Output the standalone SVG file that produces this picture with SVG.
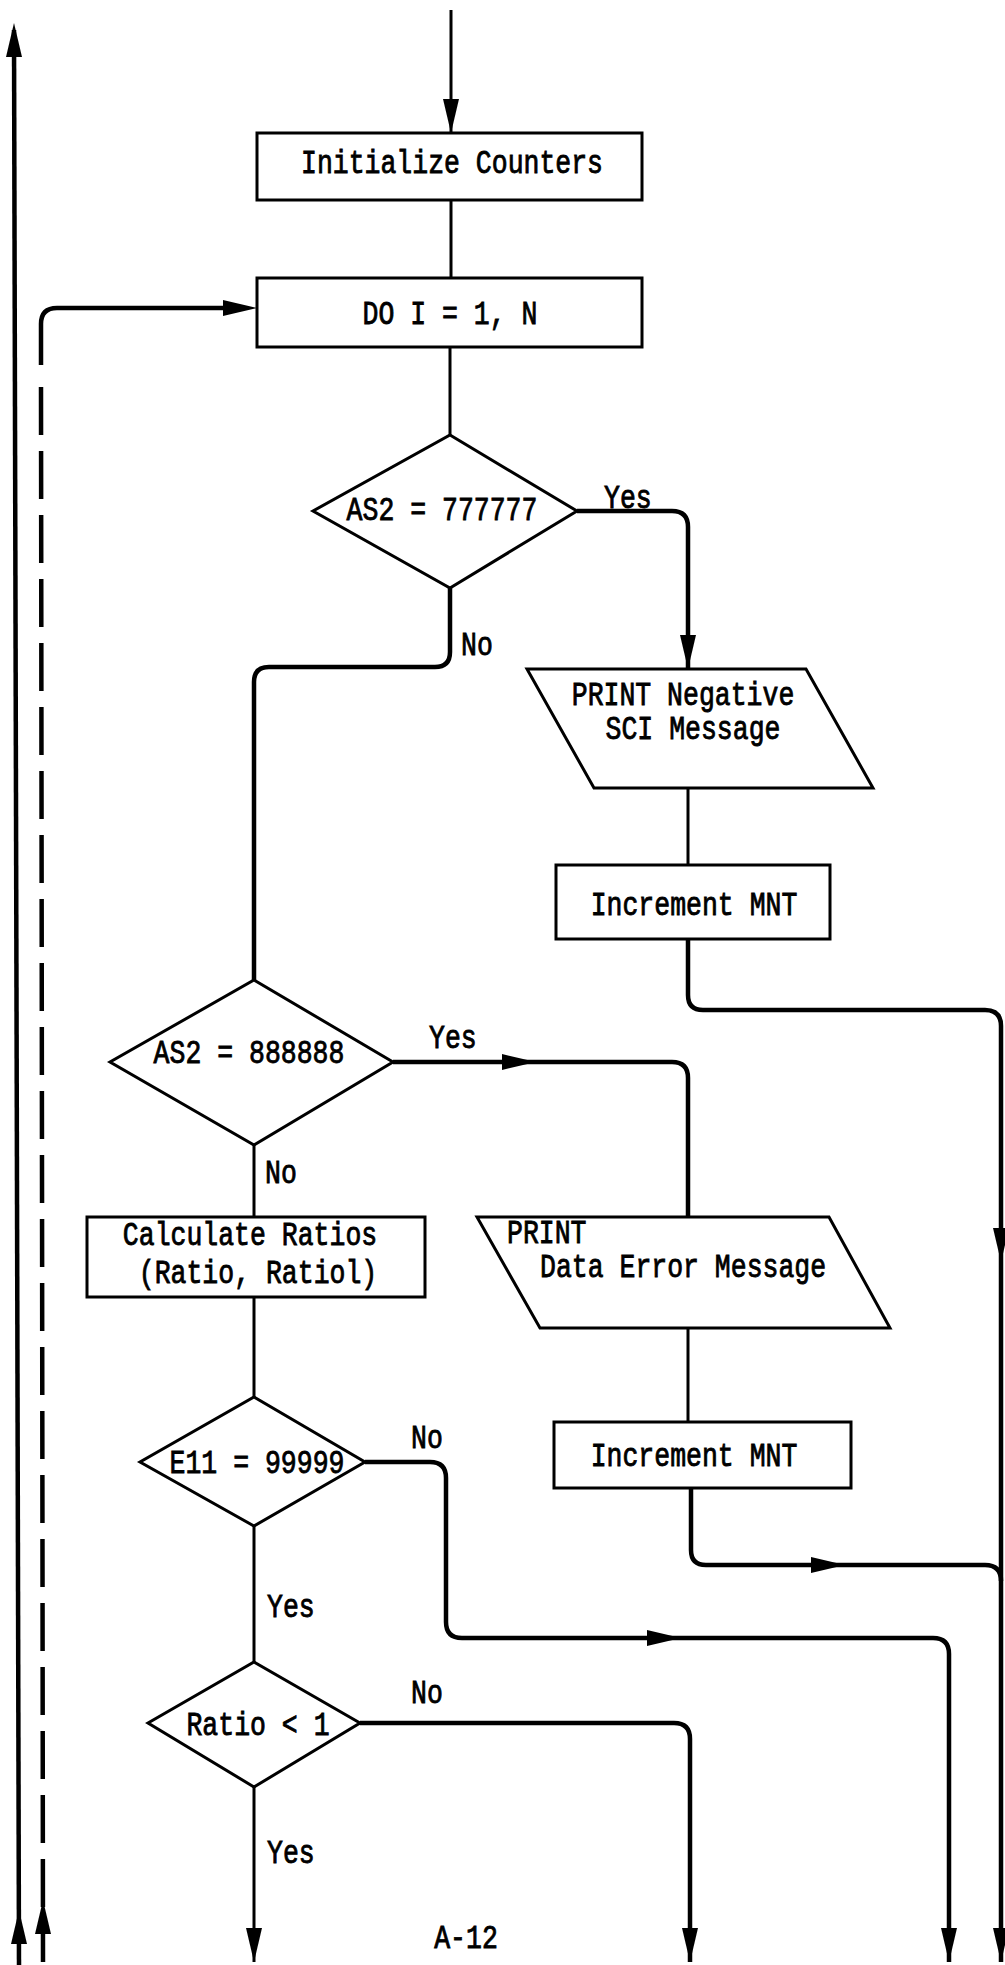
<svg xmlns="http://www.w3.org/2000/svg" xmlns:xlink="http://www.w3.org/1999/xlink" width="1005" height="1965" viewBox="0 0 1005 1965">
<style>
.n{fill:#fff;stroke:#000;stroke-width:3;stroke-linejoin:miter}
.c{fill:none;stroke:#000;stroke-width:3}
.k{stroke-width:4.5}
.d{stroke-dasharray:48 16}
.a{fill:#000}
.t{font-family:"Liberation Mono","DejaVu Sans Mono",monospace;font-size:26.5px;fill:#000;stroke:#000;stroke-width:0.7}
.m{text-anchor:middle}
</style>
<defs>
<path id="ah" d="M0,0 L-34,-8 L-34,8 Z"/>
</defs>
<rect x="0" y="0" width="1005" height="1965" fill="#fff"/>
<g id="connectors">
<path class="c" d="M451,10 V133"/>
<path class="c" d="M451,200 V278"/>
<path class="c" d="M450,347 V435"/>
<path class="c k" d="M577,511 H672 Q688,511 688,527 V669"/>
<path class="c k" d="M450,588 V652 Q450,667 435,667 H269 Q254,667 254,682 V980"/>
<path class="c" d="M688,788 V865"/>
<path class="c k" d="M688,939 V995 Q688,1010 703,1010 H985 Q1001,1010 1001,1026 V1962"/>
<path class="c k" d="M393,1062 H672 Q688,1062 688,1078 V1217"/>
<path class="c" d="M254,1145 V1217"/>
<path class="c" d="M688,1328 V1422"/>
<path class="c k" d="M691,1488 V1550 Q691,1565 706,1565 H985 Q1001,1565 1001,1581"/>
<path class="c" d="M254,1297 V1397"/>
<path class="c k" d="M365,1462 H430 Q446,1462 446,1478 V1622 Q446,1638 462,1638 H933 Q949,1638 949,1654 V1962"/>
<path class="c" d="M254,1526 V1662"/>
<path class="c k" d="M360,1723 H674 Q690,1723 690,1739 V1962"/>
<path class="c" d="M254,1787 V1962"/>
<path class="c k" d="M19,1965 L14,30"/>
<path class="c k" d="M41,365 V324 Q41,308 57,308 H240"/>
<path class="c k d" d="M41,387 L43,1962"/>
<use href="#ah" xlink:href="#ah" class="a" transform="translate(451,133) rotate(90)"/>
<use href="#ah" xlink:href="#ah" class="a" transform="translate(257,308)"/>
<use href="#ah" xlink:href="#ah" class="a" transform="translate(688,669) rotate(90)"/>
<use href="#ah" xlink:href="#ah" class="a" transform="translate(536,1062)"/>
<use href="#ah" xlink:href="#ah" class="a" transform="translate(1001,1262) rotate(90)"/>
<use href="#ah" xlink:href="#ah" class="a" transform="translate(1001,1962) rotate(90)"/>
<use href="#ah" xlink:href="#ah" class="a" transform="translate(845,1565)"/>
<use href="#ah" xlink:href="#ah" class="a" transform="translate(681,1638)"/>
<use href="#ah" xlink:href="#ah" class="a" transform="translate(949,1962) rotate(90)"/>
<use href="#ah" xlink:href="#ah" class="a" transform="translate(690,1962) rotate(90)"/>
<use href="#ah" xlink:href="#ah" class="a" transform="translate(254,1962) rotate(90)"/>
<use href="#ah" xlink:href="#ah" class="a" transform="translate(14,23) rotate(-90)"/>
<use href="#ah" xlink:href="#ah" class="a" transform="translate(19,1910) rotate(-90)"/>
<use href="#ah" xlink:href="#ah" class="a" transform="translate(43,1900) rotate(-90)"/>
<text class="t" transform="translate(604,508) scale(1,1.22)">Yes</text>
<text class="t" transform="translate(461,655) scale(1,1.22)">No</text>
<text class="t" transform="translate(429,1048) scale(1,1.22)">Yes</text>
<text class="t" transform="translate(265,1183) scale(1,1.22)">No</text>
<text class="t" transform="translate(411,1448) scale(1,1.22)">No</text>
<text class="t" transform="translate(267,1617) scale(1,1.22)">Yes</text>
<text class="t" transform="translate(411,1703) scale(1,1.22)">No</text>
<text class="t" transform="translate(267,1863) scale(1,1.22)">Yes</text>
</g>
<g id="init">
<rect class="n" x="257" y="133" width="385" height="67"/>
<text class="t m" transform="translate(452,173) scale(1,1.22)">Initialize Counters</text>
</g>
<g id="doloop">
<rect class="n" x="257" y="278" width="385" height="69"/>
<text class="t m" transform="translate(450,324) scale(1,1.22)">DO I = 1, N</text>
</g>
<g id="dec1">
<polygon class="n" points="450,435 577,511 450,588 313,511"/>
<text class="t m" transform="translate(442,520) scale(1,1.22)">AS2 = 777777</text>
</g>
<g id="print1">
<polygon class="n" points="527,669 806,669 873,788 594,788"/>
<text class="t m" transform="translate(683,705) scale(1,1.22)">PRINT Negative</text>
<text class="t m" transform="translate(693,739) scale(1,1.22)">SCI Message</text>
</g>
<g id="inc1">
<rect class="n" x="556" y="865" width="274" height="74"/>
<text class="t m" transform="translate(694,915) scale(1,1.22)">Increment MNT</text>
</g>
<g id="dec2">
<polygon class="n" points="254,980 393,1062 254,1145 110,1062"/>
<text class="t m" transform="translate(249,1063) scale(1,1.22)">AS2 = 888888</text>
</g>
<g id="calc">
<rect class="n" x="87" y="1217" width="338" height="80"/>
<text class="t m" transform="translate(250,1245) scale(1,1.22)">Calculate Ratios</text>
<text class="t m" transform="translate(258,1283) scale(1,1.22)">(Ratio, Ratiol)</text>
</g>
<g id="print2">
<polygon class="n" points="477,1217 829,1217 890,1328 540,1328"/>
<text class="t" transform="translate(507,1243) scale(1,1.22)">PRINT</text>
<text class="t" transform="translate(540,1277) scale(1,1.22)">Data Error Message</text>
</g>
<g id="inc2">
<rect class="n" x="554" y="1422" width="297" height="66"/>
<text class="t m" transform="translate(694,1466) scale(1,1.22)">Increment MNT</text>
</g>
<g id="dec3">
<polygon class="n" points="254,1397 365,1462 254,1526 140,1462"/>
<text class="t m" transform="translate(257,1473) scale(1,1.22)">E11 = 99999</text>
</g>
<g id="dec4">
<polygon class="n" points="254,1662 360,1723 254,1787 148,1723"/>
<text class="t m" transform="translate(258,1735) scale(1,1.22)">Ratio &lt; 1</text>
</g>
<g id="page">
<text class="t m" transform="translate(466,1948) scale(1,1.22)">A-12</text>
</g>
</svg>
